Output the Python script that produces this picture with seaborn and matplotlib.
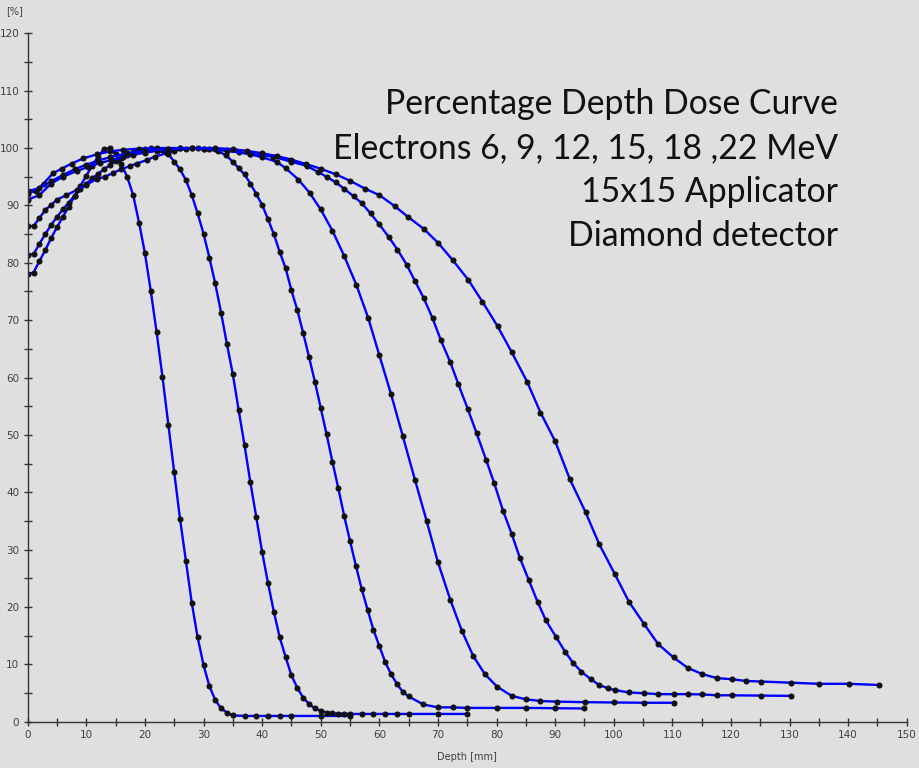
import pandas as pd
import seaborn as sns
import matplotlib.pyplot as plt
from matplotlib.ticker import MultipleLocator

# depth [mm] / dose [%], one pair of lists per energy
d6 = [0, 1, 2, 3, 4, 5, 6, 7, 8, 9, 10, 11, 12, 13, 14, 15, 16, 17, 18, 19, 20,
      21, 22, 23, 24, 25, 26, 27, 28, 29, 30, 31, 32, 33, 34, 35, 37, 39, 41, 43,
      45, 50, 55]
v6 = [78.0, 78.3, 80.3, 82.2, 84.3, 86.2, 88.0, 89.8, 91.6, 93.4,
      95.2, 96.9, 98.5, 99.8, 100.0, 98.9, 97.2, 94.9, 91.8, 87.0,
      81.7, 75.1, 67.9, 60.1, 51.8, 43.5, 35.3, 28.0, 20.7, 14.7,
      9.9, 6.2, 3.8, 2.3, 1.6, 1.1, 1.0, 1.0, 1.0, 1.0, 1.0, 1.0, 1.0]

d9 = [0, 1, 2, 3, 4, 5, 6, 7, 8, 9, 10, 11, 12, 13, 14, 15, 16, 17, 18, 19, 20,
      21, 22, 23, 24, 25, 26, 27, 28, 29, 30, 31, 32, 33, 34, 35, 36, 37, 38, 39,
      40, 41, 42, 43, 44, 45, 46, 47, 48, 49, 50, 51, 52, 53, 54, 55, 57, 59, 61,
      63, 65, 70, 75]
v9 = [81.4, 81.5, 83.3, 85.0, 86.6, 88.0, 89.3, 90.5, 91.7, 92.8,
      93.8, 94.7, 95.5, 96.3, 97.0, 97.7, 98.3, 98.8, 99.3, 99.7,
      99.9, 100.0, 99.9, 99.6, 99.0, 97.6, 96.3, 94.4, 91.8, 88.6,
      85.1, 80.9, 76.4, 71.3, 65.8, 60.6, 54.3, 48.2, 41.7, 35.7,
      29.6, 24.2, 19.2, 14.7, 11.3, 8.1, 5.9, 4.2, 3.1, 2.3,
      1.9, 1.6, 1.45, 1.4, 1.4, 1.35, 1.35, 1.35, 1.35, 1.35,
      1.35, 1.35, 1.35]

d12 = [0, 1, 2, 3, 4, 5, 6.6, 8.4, 10, 11.8, 13.2, 14.6, 16, 17.5, 18.6, 20.3,
       21.7, 23.7, 25, 27, 29, 31, 32.5, 33.8, 35, 36, 37, 38, 39, 40, 41, 42, 43,
       44, 45, 46, 47, 48, 49, 50, 51, 52, 53, 54, 55, 56, 57, 58, 59, 60, 61, 62,
       63, 64, 65, 67.5, 70, 72.5, 75, 80, 85, 90, 95]
v12 = [86.4, 86.4, 87.8, 89.2, 90.1, 91.0, 91.8, 92.7, 93.6, 94.6,
       95.0, 95.7, 96.3, 96.9, 97.3, 97.9, 98.5, 99.1, 99.5, 99.9,
       100.0, 99.8, 99.4, 98.8, 97.6, 96.5, 95.4, 93.8, 92.0, 90.1,
       87.6, 85.0, 81.9, 79.1, 75.2, 71.8, 67.8, 63.6, 59.3, 54.7,
       50.1, 45.3, 40.7, 35.9, 31.5, 27.2, 23.1, 19.5, 16.0, 13.2,
       10.4, 8.3, 6.6, 5.2, 4.4, 3.0, 2.5, 2.5, 2.4, 2.4,
       2.4, 2.35, 2.3]

d15 = [0, 2, 4, 6, 8.4, 10.3, 12.3, 14.3, 16.3, 18, 20, 22, 24, 26, 28, 30, 32,
       34, 36, 38, 40, 42.5, 44, 46.2, 48.1, 50, 52, 54, 56.1, 58.1, 60, 62, 64,
       66.1, 68.1, 70, 72.1, 74.1, 76, 78, 80.1, 82.6, 85, 87.5, 90.3, 95.1,
       100.1, 105.2, 110.2]
v15 = [91.0, 91.8, 93.8, 95.0, 96.0, 96.7, 97.4, 97.9, 98.4, 98.8,
       99.2, 99.5, 99.8, 100.0, 100.0, 99.9, 99.8, 99.6, 99.3, 98.9,
       98.4, 97.6, 96.5, 94.5, 92.2, 89.3, 85.6, 81.2, 76.1, 70.4,
       63.9, 57.1, 49.8, 42.1, 34.9, 27.8, 21.3, 15.8, 11.5, 8.3,
       6.1, 4.5, 3.9, 3.6, 3.5, 3.4, 3.35, 3.3, 3.3]

d18 = [0, 1.4, 2.7, 4.3, 5.8, 7.5, 9.5, 11.8, 14, 16.3, 19, 22, 26, 30, 34, 38,
       41.9, 45, 47.6, 49.6, 51, 52.6, 54, 55.6, 57, 58.5, 60, 61.6, 63.1, 64.7,
       66.1, 67.6, 69.1, 70.5, 72.1, 73.5, 75.1, 76.6, 78.2, 79.6, 81.1, 82.6, 84,
       85.5, 87, 88.4, 90.2, 91.7, 93.1, 94.5, 96.1, 97.5, 99.1, 100.2, 102.6,
       105.2, 107.6, 110.2, 112.6, 115.1, 117.6, 120.1, 125.1, 130.2]
v18 = [92.0, 92.6, 93.8, 95.6, 96.4, 97.3, 98.2, 98.9, 99.4, 99.7,
       99.9, 100.0, 100.0, 99.9, 99.5, 99.0, 98.5, 97.6, 96.9, 95.8,
       95.0, 94.0, 92.9, 91.6, 90.4, 88.6, 86.7, 84.5, 82.3, 79.6,
       76.8, 73.8, 70.3, 66.5, 62.7, 58.8, 54.5, 50.3, 45.7, 41.6,
       36.8, 32.7, 28.5, 24.7, 20.9, 17.7, 14.7, 12.2, 10.2, 8.7,
       7.4, 6.4, 5.8, 5.5, 5.1, 4.95, 4.8, 4.8, 4.8, 4.75,
       4.6, 4.6, 4.55, 4.5]

d22 = [0, 2, 4, 6, 8, 10, 12, 14, 17, 20, 24, 28, 32, 35, 37.5, 40, 42.5, 45,
       47.5, 50, 52.6, 55, 57.6, 60, 62.6, 64.9, 67.6, 70, 72.5, 75.2, 77.6, 80.2,
       82.6, 85.2, 87.5, 90.0, 92.5, 95.2, 97.5, 100.2, 102.6, 105.2, 107.6,
       110.2, 112.6, 115.1, 117.6, 120.1, 122.6, 125.1, 130.2, 135.1, 140.2, 145.2]
v22 = [92.5, 93.0, 94.2, 95.3, 96.3, 97.1, 97.8, 98.4, 99.1, 99.5,
       99.9, 100.0, 100.0, 99.8, 99.5, 99.1, 98.6, 98.0, 97.2, 96.4,
       95.4, 94.3, 92.9, 91.8, 89.9, 88.0, 85.9, 83.5, 80.5, 77.0,
       73.2, 68.9, 64.4, 59.3, 53.9, 48.9, 42.3, 36.5, 31.0, 25.7,
       20.9, 17.0, 13.5, 11.2, 9.4, 8.3, 7.6, 7.4, 7.1, 7.0,
       6.8, 6.6, 6.6, 6.4]

energies = ['6 MeV', '9 MeV', '12 MeV', '15 MeV', '18 MeV', '22 MeV']
depths = [d6, d9, d12, d15, d18, d22]
doses = [v6, v9, v12, v15, v18, v22]

title_lines = ['Percentage Depth Dose Curve',
               'Electrons 6, 9, 12, 15, 18 ,22 MeV',
               '15x15 Applicator',
               'Diamond detector']

df = pd.concat([pd.DataFrame({'energy': e, 'depth': d, 'dose': v})
                for e, d, v in zip(energies, depths, doses)], ignore_index=True)

bg = '#dfdfdf'
sns.set_style('ticks')
plt.rcParams['font.family'] = ['DejaVu Sans']

fig = plt.figure(figsize=(9.2, 7.68), dpi=100, facecolor=bg)
ax = fig.add_axes([0.0301, 0.0603, 0.9555, 0.8963])
ax.set_facecolor(bg)

sns.lineplot(data=df, x='depth', y='dose', hue='energy', units='energy',
             estimator=None, palette=['#0000ff'] * 6, legend=False, ax=ax,
             lw=1.7, marker='o', markersize=3.6, markerfacecolor='#111111',
             markeredgecolor='#111111')

ax.set_xlim(0, 150)
ax.set_ylim(0, 120)
ax.xaxis.set_major_locator(MultipleLocator(10))
ax.xaxis.set_minor_locator(MultipleLocator(5))
ax.yaxis.set_major_locator(MultipleLocator(10))
ax.yaxis.set_minor_locator(MultipleLocator(5))
ax.tick_params(which='both', direction='inout', length=6, width=1,
               color='#333333', labelsize=7.5, labelcolor='#404040', pad=3)
for s in ['top', 'right']:
    ax.spines[s].set_visible(False)
for s in ['left', 'bottom']:
    ax.spines[s].set_color('#333333')
    ax.spines[s].set_linewidth(1)
ax.set_xlabel('')
ax.set_ylabel('')

fig.text(15 / 920, 1 - 11 / 768, '[%]', ha='center', va='center',
         fontsize=7, color='#404040')
fig.text(467 / 920, 1 - 757 / 768, 'Depth [mm]', ha='center', va='center',
         fontsize=7, color='#404040')

for i, line in enumerate(title_lines):
    fig.text(838 / 920, 1 - (104 + 44 * i) / 768, line, ha='right',
             va='center', fontsize=24.3, family=['Lato', 'DejaVu Sans'],
             color='#111111')

fig.savefig('out.png', dpi=100, facecolor=bg)
